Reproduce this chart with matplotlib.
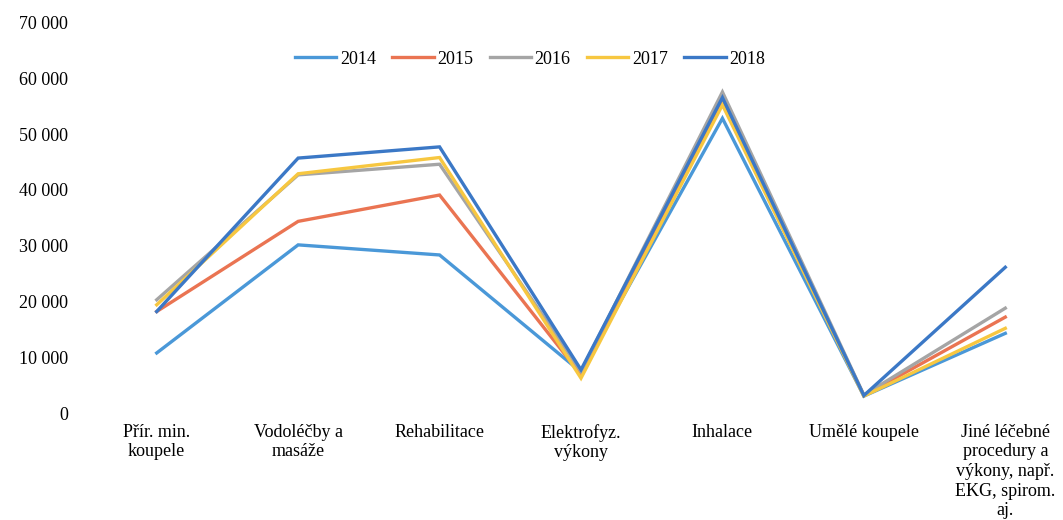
import matplotlib
matplotlib.use("Agg")
import matplotlib.pyplot as plt
from matplotlib.ticker import FuncFormatter

categories = [
    "Přír. min.\nkoupele",
    "Vodoléčby a\nmasáže",
    "Rehabilitace",
    "Elektrofyz.\nvýkony",
    "Inhalace",
    "Umělé koupele",
    "Jiné léčebné\nprocedury a\nvýkony, např.\nEKG, spirom.\naj.",
]
years = ["2014", "2015", "2016", "2017", "2018"]
v2014 = [10900, 30200, 28400, 7500, 52800, 3200, 14400]
v2015 = [18300, 34400, 39100, 7000, 55700, 3300, 17300]
v2016 = [20400, 42700, 44600, 7600, 57500, 3400, 18900]
v2017 = [19500, 42900, 45800, 6400, 55200, 3200, 15300]
v2018 = [18300, 45700, 47700, 7900, 56500, 3300, 26200]
series = [v2014, v2015, v2016, v2017, v2018]
colors = ["#4a98d8", "#ea7452", "#a5a5a5", "#f7c740", "#3b78c6"]
yticks = [0, 10000, 20000, 30000, 40000, 50000, 60000, 70000]

serif = ["Liberation Serif", "DejaVu Serif"]

fig = plt.figure(figsize=(10.63, 5.2), dpi=100)
ax = fig.add_axes([86 / 1063, 106 / 520, 990 / 1063, 392 / 520])

x = list(range(len(categories)))
for label, vals, c in zip(years, series, colors):
    ax.plot(x, vals, color=c, lw=2.4, label=label, solid_joinstyle="miter")

ax.set_xlim(-0.5, len(categories) - 0.5)
ax.set_ylim(0, 70000)
ax.set_yticks(yticks)
ax.yaxis.set_major_formatter(
    FuncFormatter(lambda v, p: "0" if v == 0 else f"{int(v):,}".replace(",", " "))
)
ax.set_xticks(x)
ax.set_xticklabels(categories, family=serif, fontsize=13, linespacing=1.2)
for t in ax.get_yticklabels():
    t.set_family(serif)
    t.set_fontsize(13)
ax.tick_params(axis="y", length=0, pad=13)
ax.tick_params(axis="x", length=0, pad=7)
for s in ax.spines.values():
    s.set_visible(False)

leg = ax.legend(
    loc="center", bbox_to_anchor=(530 / 1063, 461 / 520),
    bbox_transform=fig.transFigure, ncol=5, frameon=False,
    prop={"family": serif, "size": 13}, handlelength=2.3,
    handletextpad=0.2, columnspacing=0.9,
)

fig.savefig("out.png", dpi=100, facecolor="white")
